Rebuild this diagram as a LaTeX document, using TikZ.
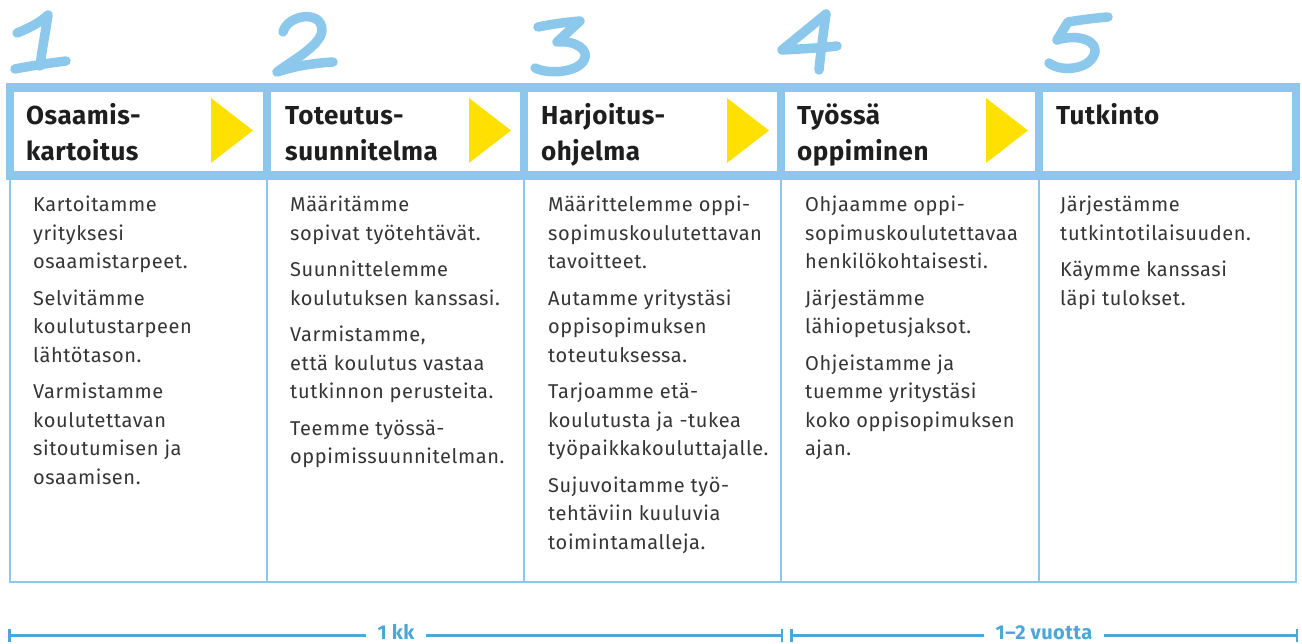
\documentclass[tikz,border=0pt]{standalone}
\usepackage{fontspec}
\setmainfont{Fira Sans}
\newfontfamily\bodyfont[LetterSpace=3]{Fira Sans}
\newfontfamily\headfont[LetterSpace=2]{Fira Sans}
\usetikzlibrary{arrows.meta}
\definecolor{lb}{HTML}{8CC8EC}
\definecolor{db}{HTML}{4AA8D8}
\definecolor{yel}{HTML}{FFE000}
\definecolor{tx}{HTML}{353535}
\definecolor{hx}{HTML}{1E1E1E}
\tikzset{
  frame/.style={draw=lb, line width=8.5pt},
  bodyline/.style={draw=lb, line width=2.5pt},
  num/.style={draw=lb, line width=9.5pt, line cap=round, line join=round},
  tri/.style={fill=yel},
  head/.style={anchor=north west, inner sep=0pt, align=left, text=hx, font=\headfont\fontsize{26}{36}\selectfont\bfseries},
  body/.style={anchor=north west, inner sep=0pt, align=left, text=tx, font=\bodyfont\fontsize{20}{28.5}\selectfont},
  tline/.style={draw=db, line width=3pt, {Bar[width=13pt,line width=2.5pt]}-{Bar[width=13pt,line width=2.5pt]}},
  tlab/.style={anchor=base, fill=white, inner xsep=12pt, inner ysep=0pt, text=db, font=\headfont\fontsize{20}{20}\selectfont\bfseries}
}
\begin{document}
\begin{tikzpicture}[x=1pt,y=-1pt]
\useasboundingbox (0,0) rectangle (1302,643);
% numbers
\draw[num] (17,33) .. controls (30,28) and (42,21) .. (48,15) .. controls (45,35) and (42,50) .. (40,66);
\draw[num] (15,69) .. controls (30,66) and (50,63) .. (66,61);
\draw[num] (283,32) .. controls (288,14) and (322,10) .. (322,30) .. controls (322,45) and (290,62) .. (277,72) .. controls (295,66) and (315,63) .. (333,62);
\draw[num] (538,27) .. controls (552,24) and (568,22) .. (580,21) -- (557,42) .. controls (575,40) and (590,50) .. (584,60) .. controls (578,72) and (550,75) .. (535,68);
\draw[num] (826,14) .. controls (823,35) and (821,50) .. (819,70);
\draw[num] (826,14) -- (782,50) .. controls (800,49) and (820,48) .. (837,46);
\draw[num] (1108,17) .. controls (1095,18) and (1080,20) .. (1068,22) -- (1057,40) .. controls (1080,33) and (1100,42) .. (1094,55) .. controls (1088,70) and (1060,72) .. (1049,63);
% body frame
\foreach \x in {10,267,524,781,1039,1296} \draw[bodyline] (\x,175) -- (\x,582);
\draw[bodyline] (8.75,582) -- (1297.25,582);
% header frame
\draw[frame] (10,87.5) rectangle (1296,175.5);
\foreach \x in {267,524,781,1039} \draw[frame] (\x,87.5) -- (\x,175.5);
% triangles
\foreach \x in {211,469,727,986} \fill[tri] (\x,98) -- (\x+42,130.5) -- (\x,163) -- cycle;
% headers
\node[head] (h1) at (26,100) {\rule{0pt}{24pt}Osaamis-\\kartoitus};
\node[head] (h2) at (285,100) {\rule{0pt}{24pt}Toteutus-\\suunnitelma};
\node[head] (h3) at (541,100) {\rule{0pt}{24pt}Harjoitus-\\ohjelma};
\node[head] (h4) at (797,100) {\rule{0pt}{24pt}Työssä\\oppiminen};
\node[head] (h5) at (1056,100) {\rule{0pt}{24pt}Tutkinto};
% bodies
\node[body] (b1) at (33,193.5) {\rule{0pt}{18pt}Kartoitamme\\yrityksesi\\osaamistarpeet.\\[8pt]Selvitämme\\koulutustarpeen\\lähtötason.\\[8pt]Varmistamme\\koulutettavan\\sitoutumisen ja\\osaamisen.};
\node[body] (b2) at (290,193.5) {\rule{0pt}{18pt}Määritämme\\sopivat työtehtävät.\\[8pt]Suunnittelemme\\koulutuksen kanssasi.\\[8pt]Varmistamme,\\että koulutus vastaa\\tutkinnon perusteita.\\[8pt]Teemme työssä-\\oppimissuunnitelman.};
\node[body] (b3) at (548,193.5) {\rule{0pt}{18pt}Määrittelemme oppi-\\sopimuskoulutettavan\\tavoitteet.\\[8pt]Autamme yritystäsi\\oppisopimuksen\\toteutuksessa.\\[8pt]Tarjoamme etä-\\koulutusta ja -tukea\\työpaikkakouluttajalle.\\[8pt]Sujuvoitamme työ-\\tehtäviin kuuluvia\\toimintamalleja.};
\node[body] (b4) at (805,193.5) {\rule{0pt}{18pt}Ohjaamme oppi-\\sopimuskoulutettavaa\\henkilökohtaisesti.\\[8pt]Järjestämme\\lähiopetusjaksot.\\[8pt]Ohjeistamme ja\\tuemme yritystäsi\\koko oppisopimuksen\\ajan.};
\node[body] (b5) at (1060,193.5) {\rule{0pt}{18pt}Järjestämme\\tutkintotilaisuuden.\\[8pt]Käymme kanssasi\\läpi tulokset.};
% timeline
\coordinate (t1s) at (8,635);
\coordinate (t1e) at (783,635);
\coordinate (t2s) at (790,635);
\coordinate (t2e) at (1298,635);
\draw[tline] (t1s) -- (t1e);
\draw[tline] (t2s) -- (t2e);
\node[tlab] (l1) at (396,639.5) {1 kk};
\node[tlab] (l2) at (1044,639.5) {1–2 vuotta};
\end{tikzpicture}
\end{document}
